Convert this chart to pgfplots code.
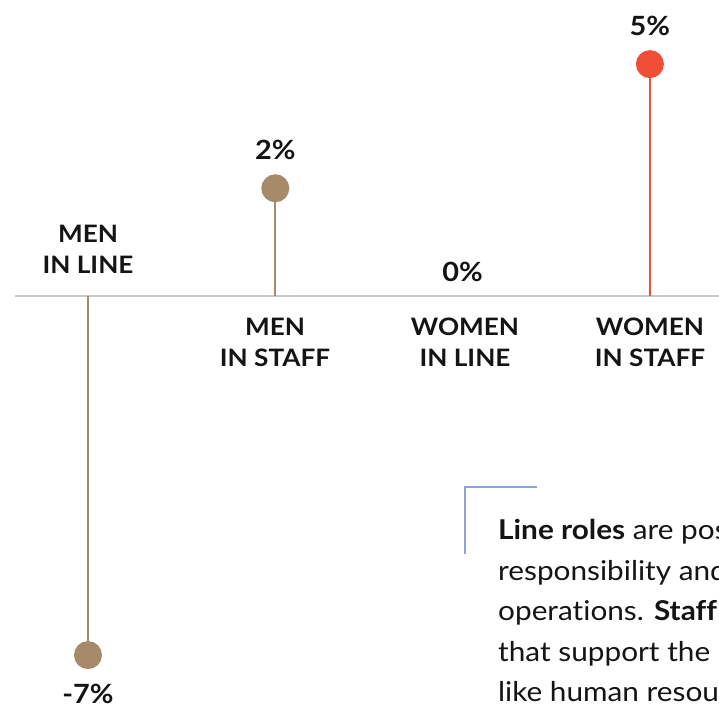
\documentclass[border=0pt]{standalone}
\usepackage{pgfplots}
\pgfplotsset{compat=1.18}
\usepackage{fontspec}
\setmainfont{Lato}[FakeStretch=1.09, Ligatures={NoCommon}]
\definecolor{tanc}{RGB}{166,139,106}
\definecolor{redc}{RGB}{240,78,55}
\definecolor{basec}{RGB}{200,200,200}
\definecolor{bluec}{RGB}{143,163,216}
\definecolor{ink}{RGB}{20,20,20}
\newcommand{\lab}{\fontsize{24}{31}\selectfont\bfseries}
\newcommand{\pct}{\fontsize{26.5}{31}\selectfont\bfseries}
\newcommand{\body}{\fontsize{27.3}{41}\selectfont}
\begin{document}
\begin{tikzpicture}
\useasboundingbox (0,0) rectangle (719pt,708pt);
\clip (0,0) rectangle (719pt,708pt);
\begin{axis}[
    at={(0,0)}, anchor=south west,
    scale only axis,
    width=719pt, height=708pt,
    hide axis,
    xmin=-0.4698, xmax=3.369,
    ymin=-8.031, ymax=5.770,
    every node near coord/.append style={font=\pct, text=ink,
        inner sep=0pt, outer ysep=28.5pt, text height=19pt, text depth=0pt,
        anchor=south},
    stem/.style={ycomb, line width=2pt, mark=*, mark size=13pt,
        mark options={fill=#1, draw=none}, color=#1,
        nodes near coords, point meta=explicit symbolic},
]
% baseline
\addplot[basec, line width=2pt] coordinates {(-0.39,0) (3.369,0)};
% men in line (below the baseline)
\addplot[stem=tanc, every node near coord/.append style={anchor=north, outer ysep=29.5pt}]
    coordinates {(0,-7.0) [-7\%]};
% men in staff
\addplot[stem=tanc] coordinates {(1,2.1) [2\%]};
% women in line
\addplot[draw=none, mark=none, nodes near coords, point meta=explicit symbolic,
    every node near coord/.append style={outer ysep=15pt}]
    coordinates {(2,0) [0\%]};
% women in staff
\addplot[stem=redc] coordinates {(3,4.52) [5\%]};
\end{axis}
% category labels
\begin{scope}[every node/.style={font=\lab, text=ink, inner sep=0pt, anchor=base}]
\node at (88pt,{(708-242.5)*1pt}) {MEN};
\node at (88pt,{(708-273.5)*1pt}) {IN LINE};
\node at (275pt,{(708-335.5)*1pt}) {MEN};
\node at (275pt,{(708-366.5)*1pt}) {IN STAFF};
\node at (465pt,{(708-335.5)*1pt}) {WOMEN};
\node at (465pt,{(708-366.5)*1pt}) {IN LINE};
\node at (650pt,{(708-335.5)*1pt}) {WOMEN};
\node at (650pt,{(708-366.5)*1pt}) {IN STAFF};
\end{scope}
% note
\draw[bluec, line width=1.5pt] (465pt,{(708-554)*1pt}) -- (465pt,{(708-487)*1pt}) -- (537pt,{(708-487)*1pt});
\begin{scope}[every node/.style={font=\body, text=ink, inner sep=0pt, anchor=base west}]
\node at (498pt,{(708-540)*1pt}) {\textbf{Line roles} are positions with P\&L};
\node at (498pt,{(708-580.5)*1pt}) {responsibility and focus on core};
\node at (498pt,{(708-621)*1pt}) {operations. \textbf{Staff roles} are positions};
\node at (498pt,{(708-661.5)*1pt}) {that support the organization, in functions};
\node at (498pt,{(708-702)*1pt}) {like human resources, legal, and IT.};
\end{scope}
\end{tikzpicture}
\end{document}
